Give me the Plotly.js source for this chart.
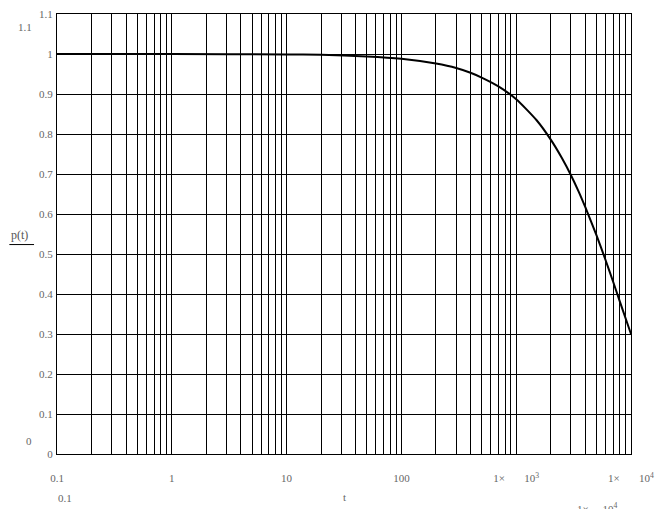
<!DOCTYPE html>
<html>
<head>
<meta charset="utf-8">
<script src="https://cdn.plot.ly/plotly-3.0.1.min.js"></script>
<style>html,body{margin:0;padding:0;background:#fff;}#chart{width:657px;height:509px;}</style>
</head>
<body>
<div id="chart"></div>
<script>
// Values
const tValues = [0.1, 1, 10, 20, 50, 100, 200, 300, 400, 500, 700, 1000, 1500, 2000, 2500, 3000, 3500, 4000, 5000, 6000, 7000, 8000, 9000, 10000];
const pValues = [1.0, 1.0, 0.999, 0.998, 0.994, 0.988, 0.976, 0.965, 0.953, 0.941, 0.919, 0.887, 0.835, 0.786, 0.740, 0.697, 0.656, 0.617, 0.547, 0.485, 0.430, 0.381, 0.338, 0.300];

const NB = '\u00A0';
const xMajorVals = [0.1, 1, 10, 100, 1000, 10000];
const xMajorText = ['0.1', '1', '10', '100', '1\u00D7' + NB.repeat(7) + '10<sup>3</sup>', '1\u00D7' + NB.repeat(7) + '10<sup>4</sup>'];
const yTickVals = [0, 0.1, 0.2, 0.3, 0.4, 0.5, 0.6, 0.7, 0.8, 0.9, 1.0, 1.1];
const yTickText = ['0', '0.1', '0.2', '0.3', '0.4', '0.5', '0.6', '0.7', '0.8', '0.9', '1', '1.1'];

// grid positions: every digit of every decade
const xGridVals = [];
const xGridText = [];
for (let e = -1; e < 4; e++) {
  for (let d = 1; d <= 9; d++) {
    const v = d * Math.pow(10, e);
    xGridVals.push(v);
    const idx = xMajorVals.findIndex(m => Math.abs(m - v) / m < 1e-9);
    xGridText.push(idx >= 0 ? xMajorText[idx] : '');
  }
}
xGridVals.push(10000);
xGridText.push(xMajorText[5]);

const font = {family: 'Liberation Serif, DejaVu Serif, serif', size: 11, color: '#666'};

const trace = {
  x: tValues, y: pValues, type: 'scatter', mode: 'lines',
  line: {color: '#000', width: 2, shape: 'spline', smoothing: 0.6},
  hoverinfo: 'none'
};

const layout = {
  width: 657, height: 509,
  margin: {l: 57, r: 26, t: 14, b: 55},
  paper_bgcolor: '#fff', plot_bgcolor: '#fff',
  showlegend: false,
  font: font,
  xaxis: {
    type: 'log', range: [-1, 4],
    tickmode: 'array', tickvals: xGridVals, ticktext: xGridText,
    showgrid: true, gridcolor: '#000', gridwidth: 1,
    showline: true, linecolor: '#000', linewidth: 1, mirror: true,
    ticks: '', ticklabelstandoff: 14, zeroline: false,
    tickfont: font
  },
  yaxis: {
    range: [0, 1.1],
    tickmode: 'array', tickvals: yTickVals, ticktext: yTickText,
    showgrid: true, gridcolor: '#000', gridwidth: 1,
    showline: true, linecolor: '#000', linewidth: 1, mirror: true,
    ticks: '', zeroline: false, ticklabelstandoff: 1,
    tickfont: font
  },
  annotations: [
    {text: 't', xref: 'paper', yref: 'paper', x: 0.5, y: -0.098, xanchor: 'center', yanchor: 'middle', showarrow: false, font: font},
    {text: 'p(t)', xref: 'paper', yref: 'paper', x: -0.065, y: 0.497, xanchor: 'center', yanchor: 'middle', showarrow: false, font: {family: font.family, size: 12, color: '#555'}},
    {text: '1.1', xref: 'paper', yref: 'paper', x: -0.056, y: 0.97, xanchor: 'center', yanchor: 'middle', showarrow: false, font: font},
    {text: '0', xref: 'paper', yref: 'paper', x: -0.049, y: 0.03, xanchor: 'center', yanchor: 'middle', showarrow: false, font: font},
    {text: '0.1', xref: 'paper', yref: 'paper', x: 0.0139, y: -0.0995, xanchor: 'center', yanchor: 'middle', showarrow: false, font: font},
    {text: '1\u00D7' + NB.repeat(5) + '10<sup>4</sup>', xref: 'paper', yref: 'paper', x: 0.941, y: -0.123, xanchor: 'center', yanchor: 'middle', showarrow: false, font: font}
  ],
  shapes: [
    {type: 'line', xref: 'paper', yref: 'paper', x0: -0.083, x1: -0.04, y0: 0.476, y1: 0.476, line: {color: '#000', width: 1}}
  ]
};

Plotly.newPlot('chart', [trace], layout, {displayModeBar: false, staticPlot: true});
</script>
</body>
</html>
